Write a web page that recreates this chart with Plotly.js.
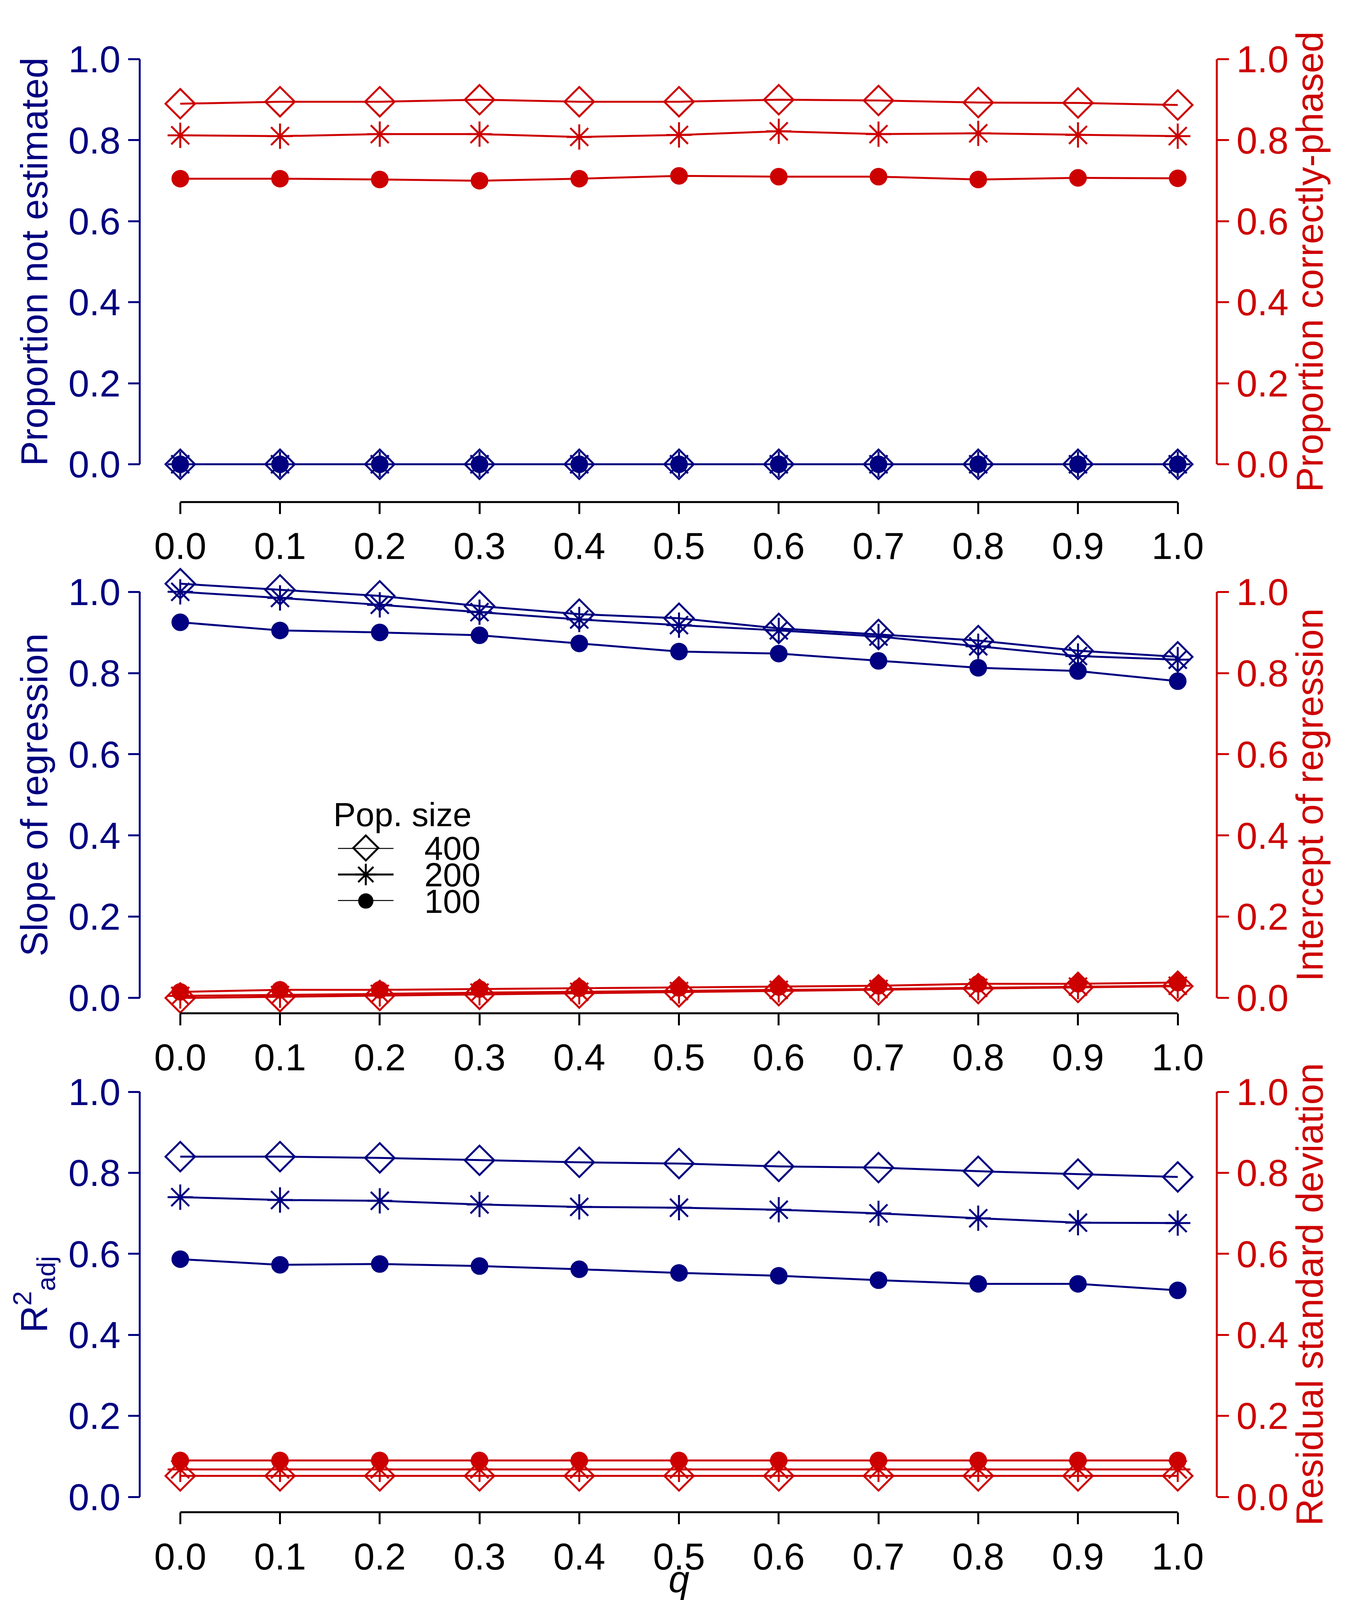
<!DOCTYPE html>
<html><head><meta charset="utf-8">
<script src="https://cdn.plot.ly/plotly-3.0.1.min.js"></script>
<style>html,body{margin:0;padding:0;background:#fff;overflow:hidden}</style></head>
<body><div id="c"></div>
<script>
const q = [0,0.1,0.2,0.3,0.4,0.5,0.6,0.7,0.8,0.9,1.0];
const popSizes = ["400","200","100"];
const legendRows = [1,0.5,0];
// Panel 1
const notEst400 = [0,0,0,0,0,0,0,0,0,0,0];
const notEst200 = [0,0,0,0,0,0,0,0,0,0,0];
const notEst100 = [0,0,0,0,0,0,0,0,0,0,0];
const phased400 = [0.890,0.895,0.895,0.900,0.895,0.895,0.900,0.898,0.893,0.892,0.887];
const phased200 = [0.812,0.810,0.815,0.815,0.808,0.813,0.822,0.815,0.817,0.813,0.810];
const phased100 = [0.705,0.705,0.703,0.700,0.705,0.712,0.710,0.710,0.703,0.707,0.706];
// Panel 2
const slope400 = [1.020,1.005,0.990,0.965,0.945,0.935,0.910,0.895,0.880,0.855,0.840];
const slope200 = [1.000,0.985,0.968,0.950,0.932,0.918,0.905,0.890,0.866,0.842,0.833];
const slope100 = [0.925,0.905,0.900,0.893,0.873,0.853,0.848,0.830,0.813,0.805,0.780];
const icpt400 = [0.000,0.003,0.006,0.009,0.012,0.015,0.018,0.020,0.023,0.026,0.029];
const icpt200 = [0.005,0.007,0.010,0.013,0.015,0.017,0.020,0.022,0.025,0.028,0.030];
const icpt100 = [0.015,0.020,0.020,0.022,0.024,0.025,0.027,0.030,0.035,0.035,0.038];
// Panel 3
const r2_400 = [0.840,0.840,0.837,0.831,0.826,0.823,0.816,0.813,0.804,0.797,0.790];
const r2_200 = [0.740,0.733,0.731,0.722,0.716,0.714,0.709,0.700,0.688,0.677,0.676];
const r2_100 = [0.587,0.573,0.575,0.570,0.562,0.553,0.546,0.535,0.526,0.526,0.510];
const rsd400 = [0.052,0.052,0.052,0.052,0.052,0.052,0.052,0.052,0.052,0.052,0.052];
const rsd200 = [0.068,0.068,0.068,0.068,0.068,0.068,0.068,0.068,0.068,0.068,0.068];
const rsd100 = [0.090,0.090,0.090,0.090,0.090,0.090,0.090,0.090,0.090,0.090,0.090];

const W = window.innerWidth || 3460, H = window.innerHeight || 6000;
const s = W/3460;
const el = document.getElementById('c'); el.style.width=W+'px'; el.style.height=H+'px';

const NAVY='#000080', RED='#CD0000';
const sym = {"400":"diamond-open","200":"asterisk-open","100":"circle"};
const msz = {"400":58,"200":54,"100":40};
const LW = 5*s;
function tr(y, size, color, xa, ya){
  return {x:q, y:y, xaxis:xa, yaxis:ya, type:'scatter', mode:'lines+markers', showlegend:false,
    cliponaxis:false, line:{color:color,width:LW},
    marker:{symbol:sym[size], size:msz[size]*s, color:color, line:{color:color,width:LW}}};
}
const data = [
  tr(notEst400,"400",NAVY,'x','y'), tr(notEst200,"200",NAVY,'x','y'), tr(notEst100,"100",NAVY,'x','y'),
  tr(phased400,"400",RED,'x','y2'), tr(phased200,"200",RED,'x','y2'), tr(phased100,"100",RED,'x','y2'),
  tr(slope400,"400",NAVY,'x2','y3'), tr(slope200,"200",NAVY,'x2','y3'), tr(slope100,"100",NAVY,'x2','y3'),
  tr(icpt400,"400",RED,'x2','y4'), tr(icpt200,"200",RED,'x2','y4'), tr(icpt100,"100",RED,'x2','y4'),
  tr(r2_400,"400",NAVY,'x3','y5'), tr(r2_200,"200",NAVY,'x3','y5'), tr(r2_100,"100",NAVY,'x3','y5'),
  tr(rsd400,"400",RED,'x3','y6'), tr(rsd200,"200",RED,'x3','y6'), tr(rsd100,"100",RED,'x3','y6')
];
// manual legend keys on a hidden axis pair
popSizes.forEach((p,i)=>{
  data.push({x:[0,0.5,1], y:[legendRows[i],legendRows[i],legendRows[i]], xaxis:'x4', yaxis:'y7', type:'scatter',
    mode:'lines', showlegend:false, cliponaxis:false, line:{color:'#000',width:LW}});
  data.push({x:[0.5], y:[legendRows[i]], xaxis:'x4', yaxis:'y7', type:'scatter', mode:'markers', showlegend:false,
    cliponaxis:false, marker:{symbol:sym[p], size:msz[p]*s*0.85, color:'#000', line:{color:'#000',width:LW}}});
});

const F = 'Liberation Sans, Arial, sans-serif';
const FS = 96*s;
const P = 0.04;
function ext(a,b){const d=(b-a)*P; return [a-d,b+d];}
const xs = [120/900, 784/900];
const xd = ext(xs[0], xs[1]);
const ys1 = [1-455/1568, 1-58/1568], ys2=[1-978/1568, 1-580/1568], ys3=[1-1467/1568, 1-1070/1568];
const xpos = [1-492/1568, 1-993/1568, 1-1482/1568];
const tickv = [0,0.2,0.4,0.6,0.8,1.0];
const RNG = [-P, 1+P];
function xax(pos, title){
  const a = {domain:xd, range:RNG, anchor:'free', position:pos, showline:false,
    ticks:'outside', ticklen:30*s, tickwidth:LW, tickcolor:'#000', tickvals:q, ticktext:q.map(v=>v.toFixed(1)),
    tickfont:{family:F,size:FS,color:'#000'}, showgrid:false, zeroline:false};
  if(title) a.title={text:title, font:{family:F,size:FS,color:'#000'}, standoff:10*s};
  return a;
}
function yl(dom, title){
  return {domain:ext(dom[0],dom[1]), range:RNG, anchor:'free', position:93/900, showline:false,
    ticks:'outside', ticklen:30*s, tickwidth:LW, tickcolor:NAVY, tickvals:tickv, ticktext:tickv.map(v=>v.toFixed(1)),
    tickfont:{family:F,size:FS,color:NAVY}, showgrid:false, zeroline:false,
    title:{text:title, font:{family:F,size:FS,color:NAVY}, standoff:20*s}};
}
function yr(over, title){
  return {overlaying:over, side:'right', range:RNG, anchor:'free', position:810/900, showline:false,
    ticks:'outside', ticklen:30*s, tickwidth:LW, tickcolor:RED, tickvals:tickv, ticktext:tickv.map(v=>v.toFixed(1)),
    tickfont:{family:F,size:FS,color:RED}, showgrid:false, zeroline:false,
    title:{text:title, font:{family:F,size:FS,color:RED}, standoff:20*s}};
}
const shapes = [];
[['y','y2',ys1],['y3','y4',ys2],['y5','y6',ys3]].forEach(([a,b])=>{
  shapes.push({type:'line', xref:'paper', yref:a, x0:93/900, x1:93/900, y0:0, y1:1, line:{color:NAVY,width:LW}});
  shapes.push({type:'line', xref:'paper', yref:b, x0:810/900, x1:810/900, y0:0, y1:1, line:{color:RED,width:LW}});
});
['x','x2','x3'].forEach((xa,i)=>{
  shapes.push({type:'line', xref:xa, yref:'paper', x0:0, x1:1, y0:xpos[i], y1:xpos[i], line:{color:'#000',width:LW}});
});
const LFS = 86*s;
const annotations = [{xref:'paper', yref:'paper', x:268/900, y:1-798/1568, text:'Pop. size', showarrow:false,
  xanchor:'center', yanchor:'middle', font:{family:F,size:LFS,color:'#000'}}];
popSizes.forEach((p,i)=>{
  annotations.push({xref:'paper', yref:'y7', x:282/900, y:legendRows[i], text:p, showarrow:false,
    xanchor:'left', yanchor:'middle', font:{family:F,size:LFS,color:'#000'}});
});
const layout = {
  width:W, height:H, margin:{l:0,r:0,t:0,b:0}, paper_bgcolor:'#fff', plot_bgcolor:'rgba(0,0,0,0)',
  font:{family:F}, showlegend:false,
  xaxis: xax(xpos[0]), xaxis2: xax(xpos[1]), xaxis3: xax(xpos[2], '<i>q</i>'),
  yaxis: yl(ys1,'Proportion not estimated'), yaxis2: yr('y','Proportion correctly-phased'),
  yaxis3: yl(ys2,'Slope of regression'), yaxis4: yr('y3','Intercept of regression'),
  yaxis5: yl(ys3,'R<sup>2</sup><sub>adj</sub>'), yaxis6: yr('y5','Residual standard deviation'),
  xaxis4: {domain:[225/900, 262/900], range:[0,1], visible:false, anchor:'y7'},
  yaxis7: {domain:[1-883/1568, 1-831/1568], range:[0,1], visible:false, anchor:'x4'},
  shapes: shapes, annotations: annotations
};
Plotly.newPlot('c', data, layout, {displayModeBar:false, staticPlot:true});
</script></body></html>
